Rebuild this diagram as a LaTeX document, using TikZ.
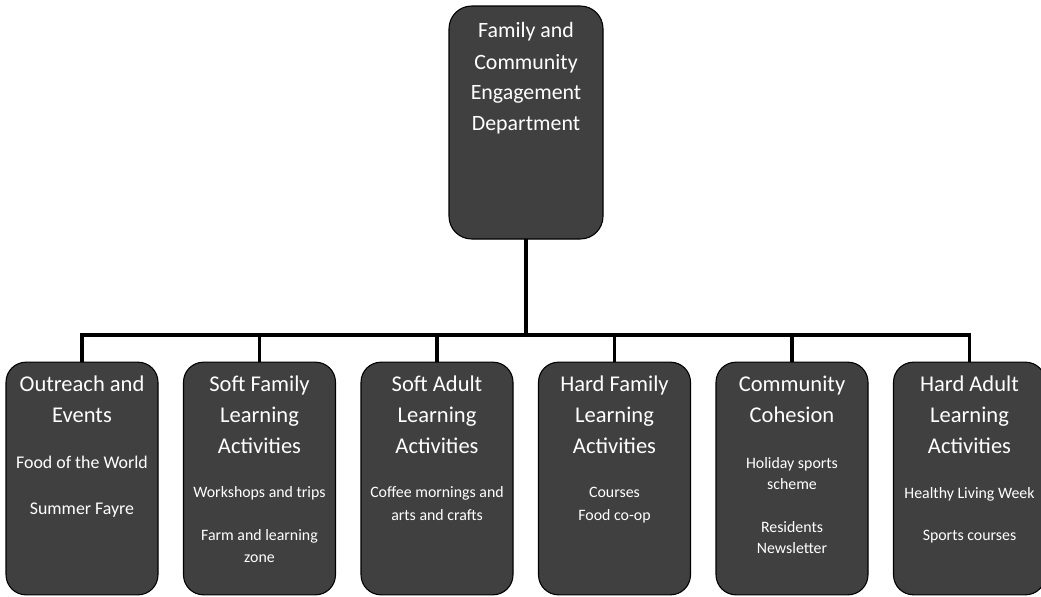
\documentclass[tikz,border=0pt]{standalone}
\usepackage{fontspec}
\setmainfont{Carlito}
\definecolor{boxgrey}{HTML}{404040}
\begin{document}
\begin{tikzpicture}[x=0.75pt,y=-0.75pt,
  unitbox/.style={draw=black, line width=0.8pt, fill=boxgrey, rounded corners=15pt,
    inner sep=0pt, outer sep=0pt, minimum width=114pt, minimum height=174.5pt},
  headbox/.style={unitbox, rounded corners=17pt, minimum width=115.5pt, minimum height=174.75pt},
  link/.style={draw=black, line width=2.3pt},
  ttl/.style={text=white, anchor=base, inner sep=0pt, font=\fontsize{16.9}{20}\selectfont},
  htl/.style={text=white, anchor=base, inner sep=0pt, font=\fontsize{16.4}{20}\selectfont},
  item/.style={text=white, anchor=base, inner sep=0pt, font=\fontsize{11.9}{14}\selectfont},
  bigitem/.style={text=white, anchor=base, inner sep=0pt, font=\fontsize{13.4}{16}\selectfont}]
\useasboundingbox (0,0) rectangle (1041,596);

% department box
\node[headbox] (dept) at (526,122.5) {};
\node[htl] (d1) at (526,37.5) {Family and};
\node[htl] (d2) at (526,69) {Community};
\node[htl] (d3) at (526,99.5) {Engagement};
\node[htl] (d4) at (526,130) {Department};

% unit boxes
\node[unitbox] (u1) at (82,478.5) {};
\node[unitbox] (u2) at (259.5,478.5) {};
\node[unitbox] (u3) at (437,478.5) {};
\node[unitbox] (u4) at (614.5,478.5) {};
\node[unitbox] (u5) at (792,478.5) {};
\node[unitbox] (u6) at (969.5,478.5) {};

% connectors
\coordinate (bus) at (526,335);
\draw[link] (dept.south) -- (bus);
\draw[link] (u1.north) -- (u1.north |- bus) -- (u6.north |- bus) -- (u6.north);
\foreach \u in {u2,u3,u4,u5}{
  \draw[link] (\u.north |- bus) -- (\u.north);
}

% Outreach and Events
\node[ttl] (t1a) at (82,391.5) {Outreach and};
\node[ttl] (t1b) at (82,422.5) {Events};
\node[bigitem] (i1a) at (82,468) {Food of the World};
\node[bigitem] (i1b) at (82,514) {Summer Fayre};

% Soft Family Learning Activities
\node[ttl] (t2a) at (259.5,391.5) {Soft Family};
\node[ttl] (t2b) at (259.5,422.5) {Learning};
\node[ttl] (t2c) at (259.5,453.5) {Activities};
\node[item] (i2a) at (259.5,497.5) {Workshops and trips};
\node[item] (i2b) at (259.5,540.5) {Farm and learning};
\node[item] (i2c) at (259.5,562.5) {zone};

% Soft Adult Learning Activities
\node[ttl] (t3a) at (437,391.5) {Soft Adult};
\node[ttl] (t3b) at (437,422.5) {Learning};
\node[ttl] (t3c) at (437,453.5) {Activities};
\node[item] (i3a) at (437,497.5) {Coffee mornings and};
\node[item] (i3b) at (437,520.5) {arts and crafts};

% Hard Family Learning Activities
\node[ttl] (t4a) at (614.5,391.5) {Hard Family};
\node[ttl] (t4b) at (614.5,422.5) {Learning};
\node[ttl] (t4c) at (614.5,453.5) {Activities};
\node[item] (i4a) at (614.5,497.5) {Courses};
\node[item] (i4b) at (614.5,520.5) {Food co-op};

% Community Cohesion
\node[ttl] (t5a) at (792,391.5) {Community};
\node[ttl] (t5b) at (792,422.5) {Cohesion};
\node[item] (i5a) at (792,468.5) {Holiday sports};
\node[item] (i5b) at (792,489.5) {scheme};
\node[item] (i5c) at (792,532.5) {Residents};
\node[item] (i5d) at (792,553.5) {Newsletter};

% Hard Adult Learning Activities
\node[ttl] (t6a) at (969.5,391.5) {Hard Adult};
\node[ttl] (t6b) at (969.5,422.5) {Learning};
\node[ttl] (t6c) at (969.5,453.5) {Activities};
\node[item] (i6a) at (969.5,498.5) {Healthy Living Week};
\node[item] (i6b) at (969.5,540.5) {Sports courses};
\end{tikzpicture}
\end{document}
